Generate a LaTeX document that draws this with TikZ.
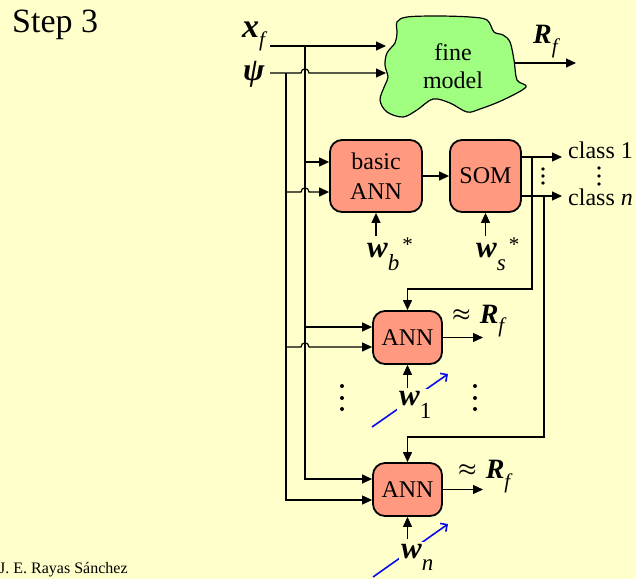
\documentclass[tikz,border=0pt]{standalone}
\usepackage{fontspec}
\setmainfont{Liberation Serif}
\usetikzlibrary{arrows.meta,calc}
\definecolor{bgc}{HTML}{FFFFCC}
\definecolor{boxc}{HTML}{FF9980}
\definecolor{cloudc}{HTML}{A0FF80}
\definecolor{bluec}{HTML}{0A0AF0}
\newcommand{\mybi}[1]{{\bfseries\itshape #1}}
\newcommand{\fsz}[1]{\fontsize{#1}{#1}\selectfont}
\newcommand{\myapprox}{\raisebox{2.5pt}{\fsz{21}\boldmath$\approx$}}
\begin{document}
\begin{tikzpicture}[x=1pt,y=-1pt,
  wire/.style={line width=1.2pt, draw=black},
  arr/.style={wire, -{Triangle[length=10pt,width=9pt]}},
  blk/.style={draw, line width=1.8pt, fill=boxc, rounded corners=12pt,
     font=\fontsize{24}{30}\selectfont, align=center, inner sep=0pt},
  lbl/.style={anchor=base west, inner sep=0pt},
  wl/.style={anchor=base west, inner sep=2pt, fill=bgc},
  barb/.style={draw=bluec, line width=1.6pt, -{Straight Barb[length=5pt,width=10pt]}},
  dot/.style={fill=black}]
\fill[bgc] (0,0) rectangle (636,579);
\useasboundingbox (0,0) rectangle (636,579);

% titles
\node[lbl] (step) at (12,32) {\fsz{34}Step 3};
\node[lbl] (auth) at (-1,573) {\fsz{16}J. E. Rayas Sánchez};

% fine model cloud
\draw[line width=1.2pt, fill=cloudc] plot[smooth cycle, tension=0.55] coordinates {
 (397,22) (407,17) (437,16) (470,17) (487,20) (494,32) (503,35) (510,42)
 (514,60) (517,80) (526,87) (503,100) (480,109) (467,112) (450,103)
 (433,99) (417,110) (403,117) (387,112) (380,100) (385,85) (388,77)
 (385,65) (387,53) (395,43) (397,33)};
\node[align=center, font=\fontsize{24}{28}\selectfont, inner sep=0pt] (fm) at (453,66) {fine\\model};

% blocks
\node[blk, minimum width=92pt, minimum height=72pt] (bann) at (376,176) {basic\\ANN};
\node[blk, minimum width=71pt, minimum height=72pt] (som) at (485.5,176) {SOM};
\node[blk, minimum width=69pt, minimum height=53pt] (ann1) at (407.5,337.5) {ANN};
\node[blk, minimum width=69pt, minimum height=53pt] (ann2) at (407.5,489.5) {ANN};

% input labels
\node[lbl] (xf) at (242,37) {\fsz{34}\mybi{x}\raisebox{-9pt}{\fsz{21}\itshape f}};
\node[lbl] (psi) at (243,80) {\fsz{32}\mybi{ψ}};

% coordinates
\coordinate (xfs) at (270,46);
\coordinate (psis) at (270,73);
\coordinate (fmi1) at (386,46);
\coordinate (fmi2) at (386,73);
\coordinate (jx) at (305,46);
\coordinate (jp) at (286,73);
\coordinate (b1) at ($(bann.west)+(0,-14)$);
\coordinate (b2) at ($(bann.west)+(0,16)$);
\coordinate (a11) at ($(ann1.west)+(0,-10.5)$);
\coordinate (a12) at ($(ann1.west)+(0,9.5)$);
\coordinate (a21) at ($(ann2.west)+(0,-10.5)$);
\coordinate (a22) at ($(ann2.west)+(0,10.5)$);
\coordinate (fmo) at (515,63);
\coordinate (rfo) at (576,63);
\coordinate (c1) at (562,157);
\coordinate (cn) at (562,196);
\coordinate (v1) at (532,157);
\coordinate (v2) at (544,196);
\coordinate (k1) at (532,289);
\coordinate (k2) at (544,437);
\coordinate (o1) at (483,337.5);
\coordinate (o2) at (483,489.5);
\coordinate (wb0) at (376,236);
\coordinate (ws0) at (485.5,236);
\coordinate (w10) at (407.5,388);
\coordinate (wn0) at (407.5,539);

% inputs to fine model
\draw[arr] (xfs) -- (fmi1);
\draw[arr] (psis) -- ($(jx|-psis)+(-4,0)$) .. controls +(0,-5.5) and +(0,-5.5) .. ($(jx|-psis)+(4,0)$) -- (fmi2);
\draw[arr] (fmo) -- (rfo);
\node[lbl] (rf) at (533,43) {\fsz{28}\mybi{R}\raisebox{-10pt}{\fsz{21}\itshape f}};

% distribution
\draw[arr] (jx) |- (a21);
\draw[arr] (jp) |- (a22);
\draw[arr] (jx|-b1) -- (b1);
\draw[arr] (jp|-b2) -- ($(jx|-b2)+(-4,0)$) .. controls +(0,-5.5) and +(0,-5.5) .. ($(jx|-b2)+(4,0)$) -- (b2);
\draw[arr] (jx|-a11) -- (a11);
\draw[arr] (jp|-a12) -- ($(jx|-a12)+(-4,0)$) .. controls +(0,-5.5) and +(0,-5.5) .. ($(jx|-a12)+(4,0)$) -- (a12);

% basic ANN -> SOM
\draw[arr] (bann.east) -- (som.west);
\draw[arr] (wb0) -- (bann.south);
\draw[arr] (ws0) -- (som.south);
\node[lbl] (wb) at (367,257) {\fsz{31}\mybi{w}\raisebox{-13pt}{\fsz{23}\itshape b}\hspace{3pt}\raisebox{6pt}{\fsz{21}*}};
\node[lbl] (ws) at (476,257) {\fsz{31}\mybi{w}\raisebox{-13pt}{\fsz{23}\itshape s}\hspace{3pt}\raisebox{6pt}{\fsz{21}*}};

% SOM outputs
\draw[arr] (som.east|-c1) -- (c1);
\draw[arr] (som.east|-cn) -- (cn);
\node[lbl] (cl1) at (568,158) {\fsz{24}class 1};
\node[lbl] (cln) at (568,205) {\fsz{24}class \itshape n};
\foreach \yy in {169,176,183} \fill[dot] (543,\yy) circle[radius=1.9pt];
\foreach \yy in {168,176,184} \fill[dot] (599,\yy) circle[radius=1.9pt];

\draw[arr] (v1) -- (k1) -| (ann1.north);
\draw[arr] (v2) -- (k2) -| (ann2.north);

% ANN outputs
\draw[arr] (ann1.east) -- (o1);
\draw[arr] (ann2.east) -- (o2);
\node[lbl] (ap1) at (452,323) {\myapprox\hspace{9pt}\fsz{28}\mybi{R}\raisebox{-9pt}{\fsz{21}\itshape f}};
\node[lbl] (ap2) at (458,478) {\myapprox\hspace{9pt}\fsz{28}\mybi{R}\raisebox{-10pt}{\fsz{21}\itshape f}};

% weights of ANNs
\draw[arr] (w10) -- (ann1.south);
\draw[arr] (wn0) -- (ann2.south);
\draw[barb] (372,427) -- (448,374);
\draw[barb] (373,577) -- (448,524);
\node[wl] (w1) at (397,405) {\fsz{31}\mybi{w}\raisebox{-13pt}{\fsz{23}1}};
\node[wl] (wn) at (399,558) {\fsz{31}\mybi{w}\raisebox{-12pt}{\fsz{23}\itshape n}};

% vertical dots
\foreach \yy in {386,398,409} {
  \fill[dot] (342,\yy) circle[radius=2pt];
  \fill[dot] (475,\yy) circle[radius=2pt];
}
\end{tikzpicture}
\end{document}
